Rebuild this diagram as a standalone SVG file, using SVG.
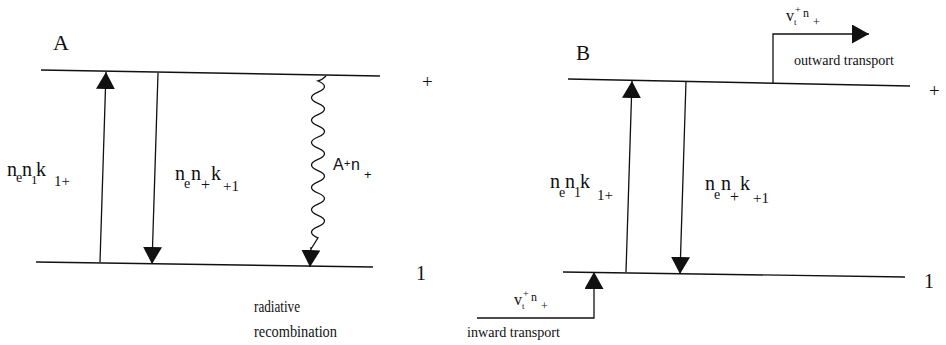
<svg xmlns="http://www.w3.org/2000/svg" width="946" height="345" viewBox="0 0 946 345">
<style>
.lv{stroke:#111;stroke-width:1.4;fill:none}
.ar{stroke:#111;stroke-width:1.3;fill:none;marker-end:url(#tri)}
.wv{stroke:#111;stroke-width:1.3;fill:none}
.t{font-family:"Liberation Serif","Times New Roman",serif;fill:#111}
.s{font-family:"Liberation Sans",Arial,sans-serif;fill:#111}
</style>
<defs>
<marker id="tri" viewBox="0 0 17 19" refX="17" refY="9.5" markerWidth="17" markerHeight="19" markerUnits="userSpaceOnUse" orient="auto">
<path d="M0,0 L17,9.5 L0,19 z" fill="#111"/>
</marker>
</defs>
<rect width="946" height="345" fill="#fff"/>

<g id="panel-A">
<text class="t" x="53" y="50" font-size="22">A</text>
<g id="A-level-plus"><line class="lv" x1="41" y1="70" x2="380" y2="76"/><text class="t" x="422" y="88" font-size="19">+</text></g>
<g id="A-level-1"><line class="lv" x1="36" y1="262" x2="373" y2="267"/><text class="t" x="416" y="280" font-size="20">1</text></g>
<text class="t" font-size="20"><tspan x="7" y="176">n</tspan><tspan x="16" y="182" font-size="14">e</tspan><tspan x="22" y="176">n</tspan><tspan x="31" y="184" font-size="13">1</tspan><tspan x="36" y="176">k</tspan><tspan x="54" y="186" font-size="15">1+</tspan></text>
<text class="t" font-size="20"><tspan x="175" y="180">n</tspan><tspan x="184" y="188" font-size="14">e</tspan><tspan x="191" y="180">n</tspan><tspan x="201" y="190" font-size="16">+</tspan><tspan x="211" y="180">k</tspan><tspan x="223" y="191" font-size="15">+1</tspan></text>
<text class="s" font-size="16"><tspan x="333" y="170">A</tspan><tspan x="344" y="167" font-size="11">+</tspan><tspan x="351" y="170">n</tspan><tspan x="364" y="179" font-size="13">+</tspan></text>
<text class="t" x="254" y="312" font-size="16" textLength="46" lengthAdjust="spacingAndGlyphs">radiative</text>
<text class="t" x="254" y="337" font-size="16" textLength="83" lengthAdjust="spacingAndGlyphs">recombination</text>
</g>

<g id="panel-B">
<text class="t" x="576" y="60" font-size="21">B</text>
<g id="B-level-plus"><line class="lv" x1="568" y1="79" x2="910" y2="86"/><text class="t" x="929" y="97" font-size="19">+</text></g>
<g id="B-level-1"><line class="lv" x1="563" y1="272" x2="905" y2="277"/><text class="t" x="924" y="288" font-size="20">1</text></g>
<text class="t" font-size="20"><tspan x="550" y="188">n</tspan><tspan x="559" y="197" font-size="14">e</tspan><tspan x="565" y="188">n</tspan><tspan x="574" y="197" font-size="14">1</tspan><tspan x="580" y="188">k</tspan><tspan x="597" y="200" font-size="15">1+</tspan></text>
<text class="t" font-size="20"><tspan x="705" y="190">n</tspan><tspan x="714" y="199" font-size="14">e</tspan><tspan x="721" y="190">n</tspan><tspan x="730" y="202" font-size="16">+</tspan><tspan x="740" y="190">k</tspan><tspan x="753" y="203" font-size="15">+1</tspan></text>
<text class="t" font-size="16"><tspan x="514" y="305">v</tspan><tspan x="522" y="309" font-size="9">t</tspan><tspan x="523" y="297" font-size="10">+</tspan><tspan x="531" y="301" font-size="12">n</tspan><tspan x="541" y="310" font-size="12">+</tspan></text>
<text class="t" x="467" y="337" font-size="15" textLength="93" lengthAdjust="spacingAndGlyphs">inward transport</text>
<text class="t" font-size="16"><tspan x="786" y="21">v</tspan><tspan x="794" y="25" font-size="9">t</tspan><tspan x="795" y="13" font-size="10">+</tspan><tspan x="803" y="17" font-size="12">n</tspan><tspan x="813" y="26" font-size="12">+</tspan></text>
<text class="t" x="794" y="65" font-size="15" textLength="100" lengthAdjust="spacingAndGlyphs">outward transport</text>
</g>

<g id="connectors">
<path class="ar" d="M100,262 L106,72"/>
<path class="ar" d="M158,73 L152,264"/>
<path class="wv" d="M326,76 Q322,80 318,81 q13,5.6 0,11.2 t0,11.2 t0,11.2 t0,11.2 t0,11.2 t0,11.2 t0,11.2 t0,11.2 t0,11.2 t0,11.2 t0,11.2 t0,11.2 t0,11.2 t0,11.2 L311,249"/>
<path class="ar" d="M311,247 L310,267"/>
<path class="ar" d="M626,272 L632,81"/>
<path class="ar" d="M686,81 L680,274"/>
<path class="ar" d="M773,83 L773,34 L869,34"/>
<path class="ar" d="M477,318 L594,318 L594,272"/>
</g>
</svg>
